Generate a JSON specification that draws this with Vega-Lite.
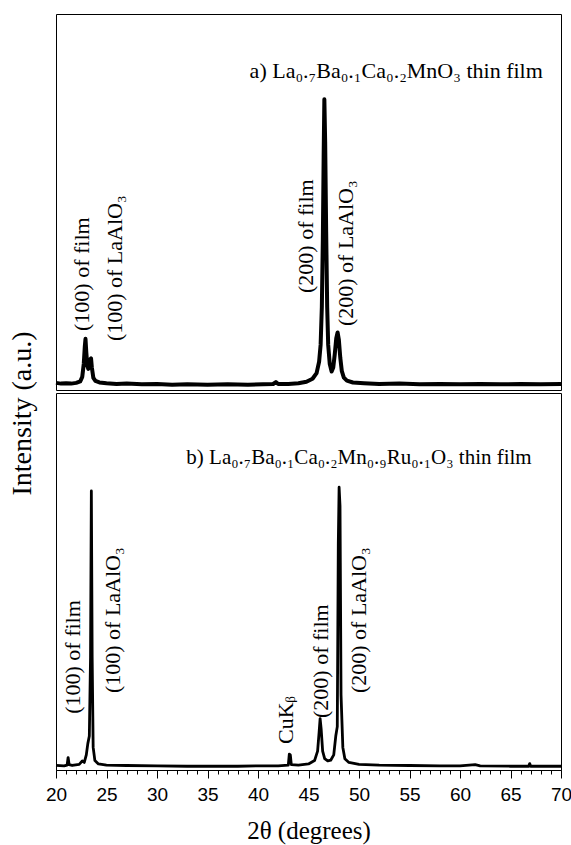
{
  "$schema": "https://vega.github.io/schema/vega-lite/v6.json",
  "padding": {"left": 7, "top": 13, "right": 0, "bottom": 5},
  "spacing": 3,
  "bounds": "flush",
  "config": {
    "view": {"stroke": "black", "strokeWidth": 1},
    "text": {"font": "Liberation Serif", "fontSize": 22, "color": "black"}
  },
  "datasets": {
    "a": [
      {"two_theta": 20.0, "intensity": 1.9}, {"two_theta": 20.5, "intensity": 1.7}, {"two_theta": 21.0, "intensity": 1.8},
      {"two_theta": 21.5, "intensity": 1.7}, {"two_theta": 22.0, "intensity": 1.9}, {"two_theta": 22.4, "intensity": 2.3},
      {"two_theta": 22.6, "intensity": 3.5}, {"two_theta": 22.75, "intensity": 7.0}, {"two_theta": 22.85, "intensity": 11.5},
      {"two_theta": 22.92, "intensity": 13.6}, {"two_theta": 23.0, "intensity": 10.0}, {"two_theta": 23.1, "intensity": 6.5},
      {"two_theta": 23.2, "intensity": 5.6}, {"two_theta": 23.3, "intensity": 6.5}, {"two_theta": 23.4, "intensity": 8.2},
      {"two_theta": 23.47, "intensity": 8.4}, {"two_theta": 23.55, "intensity": 6.0}, {"two_theta": 23.7, "intensity": 3.2},
      {"two_theta": 23.9, "intensity": 2.4}, {"two_theta": 24.3, "intensity": 2.0}, {"two_theta": 25.0, "intensity": 1.8},
      {"two_theta": 26.0, "intensity": 1.6}, {"two_theta": 27.0, "intensity": 1.7}, {"two_theta": 28.5, "intensity": 1.5},
      {"two_theta": 30.0, "intensity": 1.6}, {"two_theta": 31.5, "intensity": 1.4}, {"two_theta": 33.0, "intensity": 1.5},
      {"two_theta": 35.0, "intensity": 1.4}, {"two_theta": 37.0, "intensity": 1.5}, {"two_theta": 39.0, "intensity": 1.4},
      {"two_theta": 40.5, "intensity": 1.5}, {"two_theta": 41.5, "intensity": 1.6}, {"two_theta": 41.77, "intensity": 2.1},
      {"two_theta": 42.0, "intensity": 1.6}, {"two_theta": 43.0, "intensity": 1.6}, {"two_theta": 44.0, "intensity": 1.8},
      {"two_theta": 44.8, "intensity": 2.2}, {"two_theta": 45.4, "intensity": 3.0}, {"two_theta": 45.8, "intensity": 4.5},
      {"two_theta": 46.05, "intensity": 7.5}, {"two_theta": 46.2, "intensity": 12.0}, {"two_theta": 46.32, "intensity": 22.0},
      {"two_theta": 46.42, "intensity": 40.0}, {"two_theta": 46.5, "intensity": 62.0}, {"two_theta": 46.57, "intensity": 77.3},
      {"two_theta": 46.65, "intensity": 66.0}, {"two_theta": 46.75, "intensity": 42.0}, {"two_theta": 46.85, "intensity": 22.0},
      {"two_theta": 46.95, "intensity": 12.0}, {"two_theta": 47.1, "intensity": 7.0}, {"two_theta": 47.29, "intensity": 4.9},
      {"two_theta": 47.45, "intensity": 6.0}, {"two_theta": 47.6, "intensity": 9.5}, {"two_theta": 47.75, "intensity": 13.8},
      {"two_theta": 47.88, "intensity": 15.3}, {"two_theta": 48.0, "intensity": 13.5}, {"two_theta": 48.15, "intensity": 8.5},
      {"two_theta": 48.3, "intensity": 5.0}, {"two_theta": 48.5, "intensity": 3.3}, {"two_theta": 48.8, "intensity": 2.5},
      {"two_theta": 49.4, "intensity": 2.0}, {"two_theta": 50.5, "intensity": 1.8}, {"two_theta": 52.0, "intensity": 1.6},
      {"two_theta": 54.0, "intensity": 1.7}, {"two_theta": 56.0, "intensity": 1.5}, {"two_theta": 58.0, "intensity": 1.6},
      {"two_theta": 60.0, "intensity": 1.5}, {"two_theta": 62.0, "intensity": 1.6}, {"two_theta": 64.0, "intensity": 1.5},
      {"two_theta": 66.0, "intensity": 1.6}, {"two_theta": 68.0, "intensity": 1.5}, {"two_theta": 70.0, "intensity": 1.6}
    ],
    "b": [
      {"two_theta": 20.0, "intensity": 1.2}, {"two_theta": 20.8, "intensity": 1.1}, {"two_theta": 21.1, "intensity": 1.3},
      {"two_theta": 21.2, "intensity": 3.3}, {"two_theta": 21.3, "intensity": 1.4}, {"two_theta": 21.6, "intensity": 1.2},
      {"two_theta": 22.3, "intensity": 1.5}, {"two_theta": 22.6, "intensity": 2.4}, {"two_theta": 22.8, "intensity": 2.0},
      {"two_theta": 23.0, "intensity": 4.0}, {"two_theta": 23.15, "intensity": 7.0}, {"two_theta": 23.3, "intensity": 9.0},
      {"two_theta": 23.42, "intensity": 30.0}, {"two_theta": 23.5, "intensity": 74.0}, {"two_theta": 23.58, "intensity": 30.0},
      {"two_theta": 23.68, "intensity": 6.0}, {"two_theta": 23.85, "intensity": 2.5}, {"two_theta": 24.2, "intensity": 1.6},
      {"two_theta": 25.0, "intensity": 1.3}, {"two_theta": 27.0, "intensity": 1.2}, {"two_theta": 30.0, "intensity": 1.1},
      {"two_theta": 33.0, "intensity": 1.0}, {"two_theta": 35.0, "intensity": 1.0}, {"two_theta": 38.0, "intensity": 1.0},
      {"two_theta": 40.0, "intensity": 1.1}, {"two_theta": 42.0, "intensity": 1.1}, {"two_theta": 43.0, "intensity": 1.3},
      {"two_theta": 43.1, "intensity": 4.2}, {"two_theta": 43.2, "intensity": 4.0}, {"two_theta": 43.3, "intensity": 1.4},
      {"two_theta": 44.0, "intensity": 1.3}, {"two_theta": 45.0, "intensity": 1.6}, {"two_theta": 45.6, "intensity": 2.5},
      {"two_theta": 45.9, "intensity": 5.0}, {"two_theta": 46.05, "intensity": 10.0}, {"two_theta": 46.15, "intensity": 13.6},
      {"two_theta": 46.25, "intensity": 11.0}, {"two_theta": 46.4, "intensity": 5.0}, {"two_theta": 46.6, "intensity": 3.0},
      {"two_theta": 46.9, "intensity": 2.4}, {"two_theta": 47.2, "intensity": 2.6}, {"two_theta": 47.5, "intensity": 4.0},
      {"two_theta": 47.7, "intensity": 9.0}, {"two_theta": 47.85, "intensity": 11.5}, {"two_theta": 47.95, "intensity": 60.0},
      {"two_theta": 48.03, "intensity": 75.0}, {"two_theta": 48.12, "intensity": 70.0}, {"two_theta": 48.22, "intensity": 20.0},
      {"two_theta": 48.4, "intensity": 6.0}, {"two_theta": 48.6, "intensity": 3.0}, {"two_theta": 49.0, "intensity": 2.0},
      {"two_theta": 50.0, "intensity": 1.5}, {"two_theta": 52.0, "intensity": 1.3}, {"two_theta": 55.0, "intensity": 1.2},
      {"two_theta": 58.0, "intensity": 1.1}, {"two_theta": 60.0, "intensity": 1.1}, {"two_theta": 61.5, "intensity": 1.4},
      {"two_theta": 62.0, "intensity": 1.1}, {"two_theta": 65.0, "intensity": 1.0}, {"two_theta": 66.8, "intensity": 1.0},
      {"two_theta": 66.9, "intensity": 1.7}, {"two_theta": 67.0, "intensity": 1.0}, {"two_theta": 70.0, "intensity": 1.0}
    ],
    "labA": [
      {"two_theta": 22.6, "intensity": 15.7, "label": "(100) of film"},
      {"two_theta": 25.8, "intensity": 13.0, "label": "(100) of LaAlO₃"},
      {"two_theta": 44.8, "intensity": 25.8, "label": "(200) of film"},
      {"two_theta": 48.7, "intensity": 17.0, "label": "(200) of LaAlO₃"}
    ],
    "headA": [
      {"two_theta": 68.2, "intensity": 84.8, "label": "a) La₀.₇Ba₀.₁Ca₀.₂MnO₃ thin film"}
    ],
    "labB": [
      {"two_theta": 21.7, "intensity": 14.9, "label": "(100) of film"},
      {"two_theta": 25.6, "intensity": 20.4, "label": "(100) of LaAlO₃"},
      {"two_theta": 42.8, "intensity": 6.9, "label": "CuKᵦ"},
      {"two_theta": 46.2, "intensity": 13.8, "label": "(200) of film"},
      {"two_theta": 50.0, "intensity": 20.4, "label": "(200) of LaAlO₃"}
    ],
    "headB": [
      {"two_theta": 67.1, "intensity": 82.8, "label": "b) La₀.₇Ba₀.₁Ca₀.₂Mn₀.₉Ru₀.₁O₃ thin film"}
    ]
  },
  "vconcat": [
    {
      "width": 505,
      "height": 376,
      "encoding": {
        "x": {"field": "two_theta", "type": "quantitative", "scale": {"domain": [20, 70], "nice": false, "zero": false}, "axis": null},
        "y": {"field": "intensity", "type": "quantitative", "scale": {"domain": [0, 100], "nice": false},
          "axis": {"title": "Intensity (a.u.)", "labels": false, "ticks": false, "domain": false, "grid": false,
            "titleFont": "Liberation Serif", "titleFontSize": 28, "titleFontWeight": "normal", "titleColor": "black",
            "titleAngle": -90, "titleAlign": "center", "titleBaseline": "middle", "titleX": -34, "titleY": 399}}
      },
      "layer": [
        {"data": {"name": "a"}, "mark": {"type": "line", "color": "black", "strokeWidth": 4, "strokeJoin": "round"}},
        {"data": {"name": "labA"}, "mark": {"type": "text", "angle": 270, "align": "left", "baseline": "middle"},
          "encoding": {"text": {"field": "label"}}},
        {"data": {"name": "headA"}, "mark": {"type": "text", "align": "right", "baseline": "middle", "fontSize": 22},
          "encoding": {"text": {"field": "label"}}}
      ]
    },
    {
      "width": 505,
      "height": 377,
      "encoding": {
        "x": {"field": "two_theta", "type": "quantitative", "scale": {"domain": [20, 70], "nice": false, "zero": false},
          "axis": {
            "values": [20,21,22,23,24,25,26,27,28,29,30,31,32,33,34,35,36,37,38,39,40,41,42,43,44,45,46,47,48,49,50,51,52,53,54,55,56,57,58,59,60,61,62,63,64,65,66,67,68,69,70],
            "labelExpr": "datum.value % 5 === 0 ? datum.label : ''",
            "tickSize": {"condition": {"test": "datum.value % 5 === 0", "value": 8}, "value": 4},
            "tickColor": "black", "domainColor": "black", "grid": false,
            "labelFont": "Liberation Sans", "labelFontSize": 19, "labelColor": "black", "labelPadding": 7,
            "labelOverlap": false, "labelFlush": false,
            "title": "2θ (degrees)", "titleFont": "Liberation Serif", "titleFontSize": 25, "titleFontWeight": "normal",
            "titleColor": "black", "titlePadding": 14
          }},
        "y": {"field": "intensity", "type": "quantitative", "scale": {"domain": [0, 100], "nice": false}, "axis": null}
      },
      "layer": [
        {"data": {"name": "b"}, "mark": {"type": "line", "color": "black", "strokeWidth": 2.8, "strokeJoin": "round"}},
        {"data": {"name": "labB"}, "mark": {"type": "text", "angle": 270, "align": "left", "baseline": "middle"},
          "encoding": {"text": {"field": "label"}}},
        {"data": {"name": "headB"}, "mark": {"type": "text", "align": "right", "baseline": "middle", "fontSize": 21},
          "encoding": {"text": {"field": "label"}}}
      ]
    }
  ]
}
